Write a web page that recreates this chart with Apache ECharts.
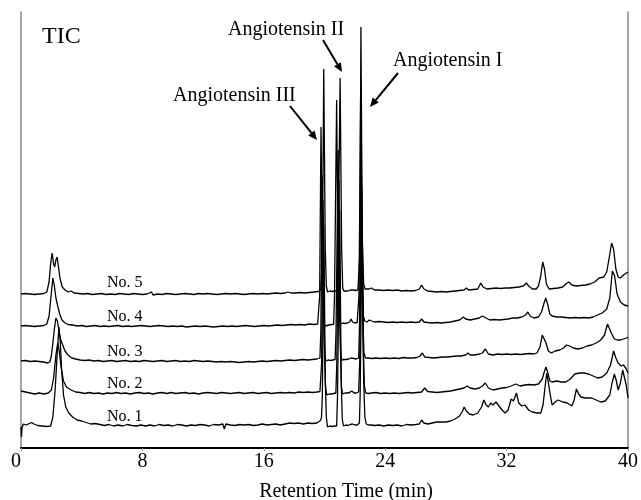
<!DOCTYPE html>
<html>
<head>
<meta charset="utf-8">
<script src="https://cdn.jsdelivr.net/npm/echarts@6/dist/echarts.min.js"></script>
<style>
  html, body { margin: 0; padding: 0; background: #fff; }
  #chart { width: 641px; height: 500px; }
</style>
</head>
<body>
<div id="chart"></div>
<script>
// x ticks (min)
const xTicks = [0, 8, 16, 24, 32, 40];
const traceNames = ['No. 1', 'No. 2', 'No. 3', 'No. 4', 'No. 5'];
// baseline of each trace, stacked (arbitrary units)
const traceOffsets = [23, 55, 87, 122, 154];

// signal above own baseline: [time(min), intensity]
const no1 = [[0,-2],[0.03,-12],[0.07,-3],[0.15,1],[0.35,0],[0.55,1.5],[0.7,2.5],[0.85,1],[1.1,-0.5],[1.4,-1],[1.7,-1.5],[1.95,-1],
  [2.1,8],[2.25,35],[2.38,70],[2.5,98],[2.58,85],[2.68,55],[2.8,30],[2.95,18],[3.15,12],[3.4,8],[3.7,5],[4.0,4],[4.3,2.5],[4.6,1],[4.9,1.5],
  [5.2,0.5],[5.5,-0.5],[5.8,0.5],[6.1,-1],[6.4,0],[6.7,-1],[7.0,0.5],[7.3,-0.5],[7.6,-1],[7.9,0],[8.2,-1],[8.5,0],[8.8,-1],[9.1,0.5],
  [9.4,-0.5],[9.7,0],[10.0,-1],[10.3,0.5],[10.6,0],[10.9,-1],[11.2,0],[11.5,-0.5],[11.8,0.5],[12.1,0],[12.4,-1],[12.7,0.5],[13.0,0],
  [13.3,1],[13.4,-4],[13.5,1],[13.8,0],[14.1,-0.5],[14.4,0.5],[14.7,0],[15.0,0.5],[15.3,-0.5],[15.6,0],[15.9,1],[16.2,0],[16.5,0.5],
  [16.8,1],[17.1,0],[17.4,1],[17.7,2],[18.0,1.5],[18.3,2],[18.6,1],[18.9,2],[19.2,1.5],[19.5,2],[19.7,4],[19.8,7],
  [19.86,30],[19.9,110],[19.95,200],[20.0,130],[20.05,45],[20.12,8],[20.2,-2],[20.35,-1],[20.5,-1.5],[20.65,-1],[20.8,-1],
  [20.86,30],[20.92,110],[21.0,215],[21.05,130],[21.1,45],[21.17,6],[21.25,-1],[21.4,0],[21.55,-0.5],[21.7,0.5],[21.85,1],[22.0,0],
  [22.15,0],[22.3,2],[22.35,30],[22.41,110],[22.48,210],[22.53,130],[22.58,45],[22.66,8],[22.75,1],
  [22.9,0],[23.1,0],[23.3,-0.5],[23.6,0],[23.9,-1],[24.2,0],[24.5,-0.5],[24.8,0],[25.1,-1],[25.4,0.5],[25.7,0],
  [26.0,0.5],[26.25,1],[26.4,5],[26.55,2],[26.8,1],[27.1,2],[27.4,3],[27.7,3],[28.0,3],[28.3,4],[28.6,6],[28.9,9],[29.1,14],[29.2,18],
  [29.35,14],[29.55,11],[29.8,10],[30.1,12],[30.35,18],[30.5,25],[30.65,20],[30.8,18],[30.95,22],[31.1,20],[31.3,23],[31.5,19],[31.7,15],
  [31.9,12],[32.1,15],[32.3,26],[32.45,24],[32.65,32],[32.8,22],[33.0,19],[33.2,20],[33.45,15],[33.7,13],[34.0,12],[34.25,12],[34.4,20],
  [34.55,40],[34.65,52],[34.75,50],[34.88,30],[35.0,20],[35.2,23],[35.4,25],[35.7,23],[36.0,22],[36.3,19],[36.45,25],[36.6,36],
  [36.75,31],[36.9,28],[37.2,27],[37.6,27],[37.9,25],[38.2,23],[38.5,24],[38.8,30],[38.95,42],[39.1,51],[39.22,45],[39.35,35],
  [39.5,42],[39.65,55],[39.75,57],[39.88,40],[40,27]];

const no2 = [[0,2],[0.3,1],[0.6,0],[0.9,-1],[1.2,0],[1.5,-1],[1.8,0],[2.0,3],[2.15,15],[2.3,38],[2.42,50],[2.52,42],[2.65,25],[2.8,12],
  [3.0,6],[3.3,3],[3.6,1],[3.9,0.5],[4.2,-0.5],[4.5,0.5],[4.8,-0.5],[5.1,0],[5.4,-1],[5.7,0],[6.0,-0.5],[6.3,0.5],[6.6,-0.5],[6.9,0],
  [7.2,-1],[7.5,0],[7.8,0.5],[8.1,-0.5],[8.4,0],[8.7,-1],[9.0,0],[9.3,0.5],[9.6,-0.5],[9.9,0.5],[10.2,-0.5],[10.5,0],[10.8,0.5],
  [11.1,-0.5],[11.4,0],[11.7,-1],[12.0,0],[12.3,0.5],[12.6,0],[12.9,-0.5],[13.2,0.5],[13.5,0],[13.8,-0.5],[14.1,0],[14.4,0.5],
  [14.7,-0.5],[15.0,0],[15.3,0.5],[15.6,-0.5],[15.9,0],[16.2,0.5],[16.5,-0.5],[16.8,0],[17.1,0.5],[17.4,0],[17.7,0.5],[18.0,0],
  [18.3,1],[18.6,0.5],[18.9,1],[19.2,0.5],[19.5,1],[19.7,1.5],[19.78,3],
  [19.81,30],[19.85,105],[19.9,193],[19.95,125],[20.0,40],[20.07,6],[20.15,-2],[20.3,-1],[20.45,-1],[20.6,-0.5],[20.75,0],
  [20.81,30],[20.87,110],[20.95,213],[21.0,130],[21.05,45],[21.12,5],[21.2,-1],[21.35,0],[21.5,0],[21.65,0.5],[21.8,2],[21.95,0],
  [22.1,0],[22.25,1],[22.32,30],[22.38,110],[22.45,208],[22.5,130],[22.55,45],[22.63,7],[22.72,0],
  [22.9,-0.5],[23.1,0],[23.4,0.5],[23.7,-0.5],[24.0,0],[24.3,-0.5],[24.6,0],[24.9,-0.5],[25.2,0],[25.5,0.5],[25.8,0],
  [26.1,0.5],[26.4,1],[26.6,5],[26.8,1.5],[27.1,1],[27.4,0.5],[27.7,1],[28.0,1.5],[28.3,2],[28.6,3],[28.9,4],[29.2,5],[29.4,7],
  [29.6,5],[29.9,4],[30.2,5],[30.4,7],[30.6,10],[30.8,5],[31.1,3],[31.4,4],[31.7,5],[32.0,5.5],[32.3,7],[32.6,9],[32.9,7],[33.2,8],
  [33.5,8.5],[33.8,8],[34.1,9],[34.35,14],[34.5,22],[34.6,26],[34.72,20],[34.85,12],[35.0,11],[35.3,12],[35.6,11],[35.9,11],
  [36.2,14],[36.5,19],[36.8,20],[37.1,20],[37.4,19],[37.7,17],[38.0,15],[38.3,16],[38.6,20],[38.85,28],[39.05,42],[39.2,35],
  [39.35,30],[39.55,27],[39.7,28],[39.85,25],[40,20]];

const no3 = [[0,0],[0.3,0.5],[0.6,-0.5],[0.9,0],[1.2,-0.5],[1.5,-1],[1.75,-2],[1.9,-1],[2.0,5],[2.1,18],[2.2,32],[2.3,43],[2.4,40],
  [2.5,30],[2.6,22],[2.75,16],[2.9,10],[3.1,6],[3.35,3],[3.6,2],[3.9,1],[4.2,0.5],[4.5,1],[4.8,0],[5.1,0.5],[5.4,-0.5],[5.7,0],
  [6.0,0.5],[6.3,-0.5],[6.6,0],[6.9,0.5],[7.2,-0.5],[7.5,0],[7.8,-0.5],[8.1,0.5],[8.4,0],[8.7,-0.5],[9.0,0],[9.3,0.5],[9.6,-0.5],
  [9.9,0],[10.2,0.5],[10.5,-0.5],[10.8,0],[11.1,-0.5],[11.4,0.5],[11.7,0],[12.0,-0.5],[12.3,0],[12.6,-0.5],[12.9,-1],[13.2,-0.5],
  [13.5,-1],[13.8,-0.5],[14.1,-1],[14.4,-1.5],[14.7,-1],[15.0,-0.5],[15.3,-1],[15.6,-0.5],[15.9,0],[16.2,-0.5],[16.5,0],[16.8,0.5],
  [17.1,0],[17.4,0.5],[17.7,1],[18.0,0.5],[18.3,1],[18.6,1.5],[18.9,1],[19.2,1.5],[19.5,2],[19.7,3],
  [19.76,30],[19.8,100],[19.85,186],[19.9,120],[19.95,40],[20.02,6],[20.1,0],[20.25,1],[20.4,0.5],[20.55,1],[20.7,1.5],
  [20.76,30],[20.82,110],[20.9,211],[20.95,130],[21.0,45],[21.07,6],[21.15,1],[21.3,1.5],[21.45,1.5],[21.6,2],[21.75,3],[21.85,5],
  [21.95,2.5],[22.1,2],[22.25,3],[22.3,30],[22.36,110],[22.42,204],[22.47,125],[22.52,45],[22.6,8],[22.7,3],
  [22.9,3],[23.1,2.5],[23.4,3],[23.7,2.5],[24.0,3],[24.3,2.5],[24.6,3],[24.9,2.5],[25.2,3.5],[25.5,3],
  [25.8,3],[26.1,3.5],[26.3,5],[26.45,8],[26.6,4],[26.9,3.5],[27.2,3],[27.5,3.5],[27.8,4],[28.1,4],[28.4,4.5],[28.7,5],[29.0,5],
  [29.3,6],[29.45,8],[29.6,6],[29.9,6],[30.2,7],[30.4,8],[30.6,12],[30.8,7],[31.1,6],[31.4,7],[31.7,6.5],[32.0,7],[32.3,6.5],
  [32.6,7],[32.9,6.5],[33.2,7],[33.5,7.5],[33.8,7],[34.0,8],[34.2,14],[34.35,26],[34.45,28],[34.6,18],[34.75,10],[34.95,8],
  [35.2,10],[35.5,11],[35.75,13],[35.95,16],[36.15,15],[36.4,13],[36.7,12],[37.0,13],[37.3,15],[37.6,16],[37.9,18],[38.2,21],
  [38.45,26],[38.65,37],[38.75,36],[38.9,28],[39.1,22],[39.3,21],[39.5,21],[39.7,22],[39.9,23],[40,24]];

const no4 = [[0,0],[0.3,0.5],[0.6,0],[0.9,-0.5],[1.2,0],[1.5,0.5],[1.7,2],[1.85,10],[1.98,30],[2.1,48],[2.2,40],[2.3,28],[2.42,20],
  [2.55,12],[2.7,6],[2.9,3],[3.1,1.5],[3.4,1],[3.7,0],[4.0,0.5],[4.3,-0.5],[4.6,0],[4.9,0.5],[5.2,-0.5],[5.5,0],[5.8,-0.5],[6.1,0],
  [6.4,0.5],[6.7,-0.5],[7.0,0],[7.3,-0.5],[7.6,0],[7.9,0.5],[8.2,0],[8.5,-0.5],[8.8,0],[9.1,0.5],[9.4,0],[9.7,-0.5],[10.0,0],
  [10.3,-0.5],[10.6,0],[10.9,-1],[11.2,-0.5],[11.5,0],[11.8,-0.5],[12.1,0],[12.4,-0.5],[12.7,-1],[13.0,-0.5],[13.3,0],[13.6,-0.5],
  [13.9,0],[14.2,-0.5],[14.5,0],[14.8,0.5],[15.1,0],[15.4,-0.5],[15.7,0],[16.0,0.5],[16.3,0],[16.6,0.5],[16.9,1],[17.2,0.5],[17.5,1],
  [17.8,1.5],[18.1,1],[18.4,1.5],[18.7,1],[19.0,2],[19.3,1.5],[19.55,2],
  [19.62,3],[19.68,30],[19.72,105],[19.77,199],[19.82,120],[19.87,40],[19.94,6],[20.02,0],[20.15,1],[20.3,1],[20.45,1.5],[20.6,1.5],
  [20.66,30],[20.72,115],[20.8,226],[20.85,135],[20.9,45],[20.97,6],[21.05,2],[21.2,3],[21.35,2.5],[21.5,3],[21.65,4],[21.75,7],
  [21.85,4],[22.0,3],[22.15,3.5],[22.25,5],[22.27,30],[22.32,115],[22.38,229],[22.43,140],[22.48,50],[22.56,10],[22.65,5],
  [22.8,4],[22.95,6],[23.1,5],[23.3,4],[23.6,4.5],[23.9,4],[24.2,3.5],
  [24.5,4],[24.8,3.5],[25.1,4],[25.4,3.5],[25.7,4],[26.0,3.5],[26.25,4],[26.4,7],[26.55,4],[26.8,3.5],[27.1,3],[27.4,3.5],[27.7,3],
  [28.0,3.5],[28.3,4],[28.6,5],[28.9,6],[29.15,9],[29.3,7],[29.6,6],[29.9,7],[30.2,8],[30.4,10],[30.5,12],[30.65,8],[30.9,6],
  [31.2,6.5],[31.5,6],[31.8,6.5],[32.1,7],[32.4,8],[32.7,8],[33.0,9],[33.25,11],[33.4,14],[33.55,10],[33.8,8],[34.1,9],[34.3,14],
  [34.45,22],[34.58,28],[34.7,22],[34.85,12],[35.0,10],[35.3,9],[35.6,9],[35.9,8.5],[36.2,8],[36.5,8.5],[36.8,8],[37.1,8.5],
  [37.4,8],[37.7,9],[38.0,11],[38.3,13],[38.6,17],[38.8,28],[38.97,55],[39.12,50],[39.28,32],[39.5,24],[39.75,21],[40,20]];

const no5 = [[0,0],[0.3,0.5],[0.6,0],[0.9,-0.5],[1.2,0],[1.5,0.5],[1.7,2],[1.85,12],[1.95,30],[2.05,41],[2.15,30],[2.22,27],[2.3,34],
  [2.38,37],[2.46,28],[2.58,15],[2.72,7],[2.9,4],[3.1,2],[3.3,3],[3.5,1],[3.8,0.5],[4.1,0],[4.4,0.5],[4.7,-0.5],[5.0,0],[5.3,0.5],
  [5.6,-0.5],[5.9,0],[6.2,-0.5],[6.5,0.5],[6.8,0],[7.1,-0.5],[7.4,0.5],[7.7,0],[8.0,-0.5],[8.3,0],[8.6,2],[8.7,-1],[9.0,0],[9.3,-0.5],
  [9.6,0.5],[9.9,0],[10.2,-0.5],[10.5,0],[10.8,0.5],[11.1,0],[11.4,-0.5],[11.7,0.5],[12.0,0],[12.3,0.5],[12.6,0],[12.9,-0.5],[13.2,0],
  [13.5,0.5],[13.8,0],[14.1,0.5],[14.4,0],[14.7,-0.5],[15.0,0],[15.3,0.5],[15.6,0],[15.9,0.5],[16.2,0],[16.5,0.5],[16.8,1],[17.1,0.5],
  [17.4,1],[17.6,2],[17.8,1],[18.1,1],[18.4,1.5],[18.7,1],[19.0,1.5],[19.3,2],[19.6,2.5],[19.75,4],
  [19.85,30],[19.9,115],[19.95,225],[20.0,135],[20.05,45],[20.12,8],[20.2,2],[20.35,3],[20.5,2.5],[20.65,3],[20.8,3],
  [20.89,30],[20.95,110],[21.03,216],[21.08,130],[21.13,45],[21.2,6],[21.28,3],[21.4,3.5],[21.55,3],[21.7,4],[21.8,6],[21.9,4],
  [22.05,3.5],[22.2,4],[22.3,6],[22.33,40],[22.36,130],[22.4,267],[22.45,150],[22.5,50],[22.58,10],[22.67,5],
  [22.8,4.5],[22.95,5],[23.1,6],[23.3,4],[23.6,4],[23.9,3.5],[24.2,4],[24.5,3.5],[24.8,4],[25.1,3],[25.4,3.5],
  [25.7,3],[26.0,3.5],[26.25,5],[26.4,9],[26.55,5],[26.8,3],[27.1,2.5],[27.4,2],[27.7,2.5],[28.0,2],[28.3,2.5],[28.6,3],[28.9,3.5],
  [29.2,4],[29.35,6],[29.5,4],[29.8,4.5],[30.1,5],[30.3,11],[30.45,7],[30.7,5],[31.0,5.5],[31.3,6],[31.6,5.5],[31.9,6],[32.2,6],
  [32.5,6.5],[32.8,7],[33.1,8],[33.3,11],[33.45,8],[33.7,5],[33.95,5],[34.1,8],[34.25,18],[34.38,32],[34.5,25],[34.62,10],[34.8,5],
  [35.1,5.5],[35.4,6],[35.7,7],[35.9,10],[36.1,12],[36.3,9],[36.6,8],[36.9,8.5],[37.2,9],[37.5,10],[37.8,12],[38.1,16],[38.4,17],
  [38.6,22],[38.78,38],[38.92,51],[39.05,45],[39.2,25],[39.35,17],[39.5,16],[39.7,19],[39.9,21],[40,22]];

const traces = [no1, no2, no3, no4, no5];

const serif = "'Liberation Serif', 'Times New Roman', serif";

const chart = echarts.init(document.getElementById('chart'));

// line + filled head, pixel coords
function arrow(x1, y1, x2, y2) {
  const ang = Math.atan2(y2 - y1, x2 - x1);
  const len = 9, half = 4;
  const bx = x2 - len * Math.cos(ang), by = y2 - len * Math.sin(ang);
  const px = -Math.sin(ang) * half, py = Math.cos(ang) * half;
  return [
    { type: 'line', shape: { x1: x1, y1: y1, x2: bx, y2: by }, style: { stroke: '#000', lineWidth: 2 } },
    { type: 'polygon', shape: { points: [[x2, y2], [bx + px, by + py], [bx - px, by - py]] }, style: { fill: '#000' } }
  ];
}

function label(text, x, y, size) {
  return { type: 'text', x: x, y: y, style: { text: text, font: size + 'px ' + serif, fill: '#000', textVerticalAlign: 'middle' } };
}

const labelY = [417, 384, 352, 317, 283];

const graphics = [
  label('TIC', 42, 37, 24),
  label('Angiotensin III', 173, 96, 20),
  label('Angiotensin II', 228, 30, 20),
  label('Angiotensin I', 393, 61, 20),
  { type: 'text', x: 346, y: 492, style: { text: 'Retention Time (min)', font: '20px ' + serif, fill: '#000', textAlign: 'center', textVerticalAlign: 'middle' } }
].concat(
  traceNames.map((n, i) => label(n, 107, labelY[i], 16)),
  arrow(290, 106, 317, 140),
  arrow(323, 40, 342, 72),
  arrow(398, 73, 370, 107)
);

const yAxisBase = {
  type: 'value',
  min: 0,
  max: 436,
  axisLine: { show: true, lineStyle: { color: '#888', width: 1.5 } },
  axisTick: { show: false },
  axisLabel: { show: false },
  splitLine: { show: false }
};

chart.setOption({
  animation: false,
  backgroundColor: '#fff',
  grid: { left: 21, right: 7, top: 12, bottom: 52 },
  xAxis: {
    type: 'value',
    min: 0,
    max: 40,
    interval: 8,
    axisLine: { onZero: false, lineStyle: { color: '#000', width: 2 } },
    axisTick: { show: true, length: 3, lineStyle: { color: '#999' } },
    axisLabel: {
      color: '#000', fontFamily: serif, fontSize: 20, margin: 4,
      alignMinLabel: 'right',
      customValues: xTicks
    },
    splitLine: { show: false }
  },
  yAxis: [
    Object.assign({}, yAxisBase, { position: 'left' }),
    Object.assign({}, yAxisBase, { position: 'right' })
  ],
  series: traces.map((tr, i) => ({
    name: traceNames[i],
    type: 'line',
    showSymbol: false,
    symbol: 'none',
    lineStyle: { color: '#000', width: 1.3 },
    data: tr.map(p => [p[0], traceOffsets[i] + p[1]])
  })),
  graphic: graphics
});
</script>
</body>
</html>
